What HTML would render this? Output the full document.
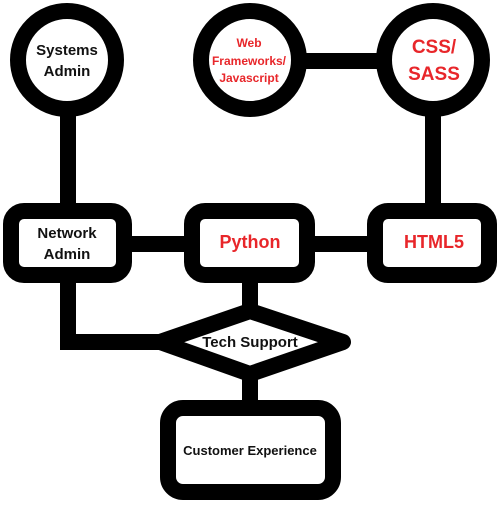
<!DOCTYPE html>
<html><head><style>body{margin:0;background:#fff}</style></head><body>
<svg width="500" height="500" xmlns="http://www.w3.org/2000/svg" font-family="'Liberation Sans',sans-serif" font-weight="bold">
<g stroke="#000" stroke-width="16" fill="none">
<line x1="68" y1="110" x2="68" y2="211"/>
<line x1="433" y1="110" x2="433" y2="211"/>
<line x1="300" y1="61" x2="380" y2="61"/>
<line x1="124" y1="244" x2="192" y2="244"/>
<line x1="307" y1="244" x2="375" y2="244"/>
<line x1="250" y1="275" x2="250" y2="311"/>
<polyline points="68,275 68,342 160,342"/>
<line x1="250" y1="374" x2="250" y2="408"/>
</g>
<g stroke="#000" stroke-width="16" fill="#fff">
<circle cx="67" cy="60" r="49"/>
<circle cx="250" cy="60" r="49"/>
<circle cx="433" cy="60" r="49"/>
<rect x="11" y="211" width="113" height="64" rx="13"/>
<rect x="192" y="211" width="115" height="64" rx="13"/>
<rect x="375" y="211" width="114" height="64" rx="13"/>
<polygon points="160,342 250,311 343,342 250,374" stroke-linejoin="round"/>
<rect x="168" y="408" width="165" height="84" rx="15"/>
</g>
<g text-anchor="middle" fill="#111">
<text x="67" y="55" font-size="15">Systems</text>
<text x="67" y="76" font-size="15">Admin</text>
<text x="67" y="238" font-size="15">Network</text>
<text x="67" y="259" font-size="15">Admin</text>
<text x="250" y="347" font-size="15">Tech Support</text>
<text x="250" y="455" font-size="13">Customer Experience</text>
</g>
<g text-anchor="middle" fill="#e8262a">
<text x="249" y="47" font-size="12">Web</text>
<text x="249" y="65" font-size="12">Frameworks/</text>
<text x="249" y="82" font-size="12">Javascript</text>
<text x="434" y="53" font-size="19">CSS/</text>
<text x="434" y="80" font-size="19">SASS</text>
<text x="250" y="248" font-size="18">Python</text>
<text x="434" y="248" font-size="18">HTML5</text>
</g>
</svg>
</body></html>
